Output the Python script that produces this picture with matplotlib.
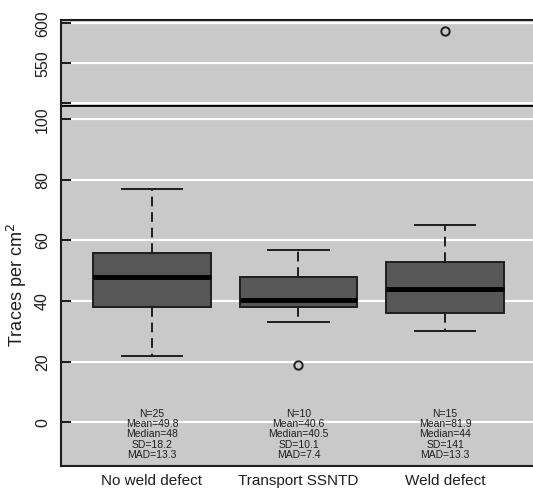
import matplotlib
matplotlib.use("Agg")
import matplotlib.pyplot as plt

plt.rcParams['font.family'] = ['Liberation Sans', 'DejaVu Sans']

# groups and box statistics
groups = ["No weld defect", "Transport SSNTD", "Weld defect"]
q1 = [38.2, 38.2, 36.0]
med = [48.0, 40.5, 44.0]
q3 = [56.0, 48.0, 53.0]
whis_lo = [22.0, 33.0, 30.0]
whis_hi = [77.0, 57.0, 65.0]
outliers = [[], [19.0], [590.0]]

# summary text printed under each box
n_obs = [25, 10, 15]
means = ["49.8", "40.6", "81.9"]
medians = ["48", "40.5", "44"]
sds = ["18.2", "10.1", "141"]
mads = ["13.3", "7.4", "13.3"]

bg = "#c9c9c9"
box_fill = "#575757"
ink = "#1e1e1e"

stats = []
for i, g in enumerate(groups):
    stats.append(dict(label=g, q1=q1[i], med=med[i], q3=q3[i],
                      whislo=whis_lo[i], whishi=whis_hi[i],
                      fliers=outliers[i]))

fig = plt.figure(figsize=(5.33, 4.90), dpi=100)
left, width = 61 / 533, 1 - 61 / 533
ax_lo = fig.add_axes([left, 1 - 466 / 490, width, (466 - 105) / 490])
ax_hi = fig.add_axes([left, 1 - 105 / 490, width, (105 - 20) / 490], sharex=ax_lo)

for ax in (ax_lo, ax_hi):
    ax.set_facecolor(bg)
    ax.set_axisbelow(True)
    ax.yaxis.grid(True, color="white", lw=1.6)
    ax.bxp(stats, positions=[1, 2, 3], widths=0.8, capwidths=0.41,
           patch_artist=True,
           boxprops=dict(facecolor=box_fill, edgecolor=ink, lw=1.4),
           medianprops=dict(color="black", lw=3.5),
           whiskerprops=dict(color=ink, lw=1.4, linestyle=(0, (5, 3))),
           capprops=dict(color=ink, lw=1.4),
           flierprops=dict(marker="o", markerfacecolor="none",
                           markeredgecolor=ink, markersize=6, mew=1.4))
    ax.spines["right"].set_visible(False)
    for s in ("left", "top", "bottom"):
        ax.spines[s].set_color(ink)
        ax.spines[s].set_linewidth(1.5)
    ax.tick_params(axis="y", direction="in", length=7, width=1.5,
                   color=ink, pad=8, labelsize=11.5, labelcolor=ink)

ax_lo.set_xlim(0.38, 3.6)
ax_lo.set_ylim(-14.4, 104.7)
ax_lo.set_yticks([0, 20, 40, 60, 80, 100])
ax_lo.set_yticklabels(["0", "20", "40", "60", "80", "100"], rotation=90, va="center")
ax_lo.spines["top"].set_linewidth(2)
ax_lo.spines["top"].set_color("black")
ax_lo.tick_params(axis="x", length=0, pad=6, labelsize=11, labelcolor=ink)
ax_lo.set_xticks([1, 2, 3])
ax_lo.set_xticklabels(groups)
ax_lo.set_ylabel("Traces per cm$^2$", fontsize=13, color=ink, labelpad=4)

ax_hi.set_ylim(498, 604.2)
ax_hi.set_yticks([500, 550, 600])
ax_hi.set_yticklabels(["", "550", "600"], rotation=90, va="center")
ax_hi.spines["bottom"].set_visible(False)
ax_hi.tick_params(axis="x", bottom=False, labelbottom=False)

for i in range(len(groups)):
    txt = "N=%d\nMean=%s\nMedian=%s\nSD=%s\nMAD=%s" % (
        n_obs[i], means[i], medians[i], sds[i], mads[i])
    ax_lo.text(i + 1, -4.0, txt, ha="center", va="center", fontsize=7.5,
               linespacing=1.05, color=ink)

fig.savefig("out.png", dpi=100, facecolor="white")
